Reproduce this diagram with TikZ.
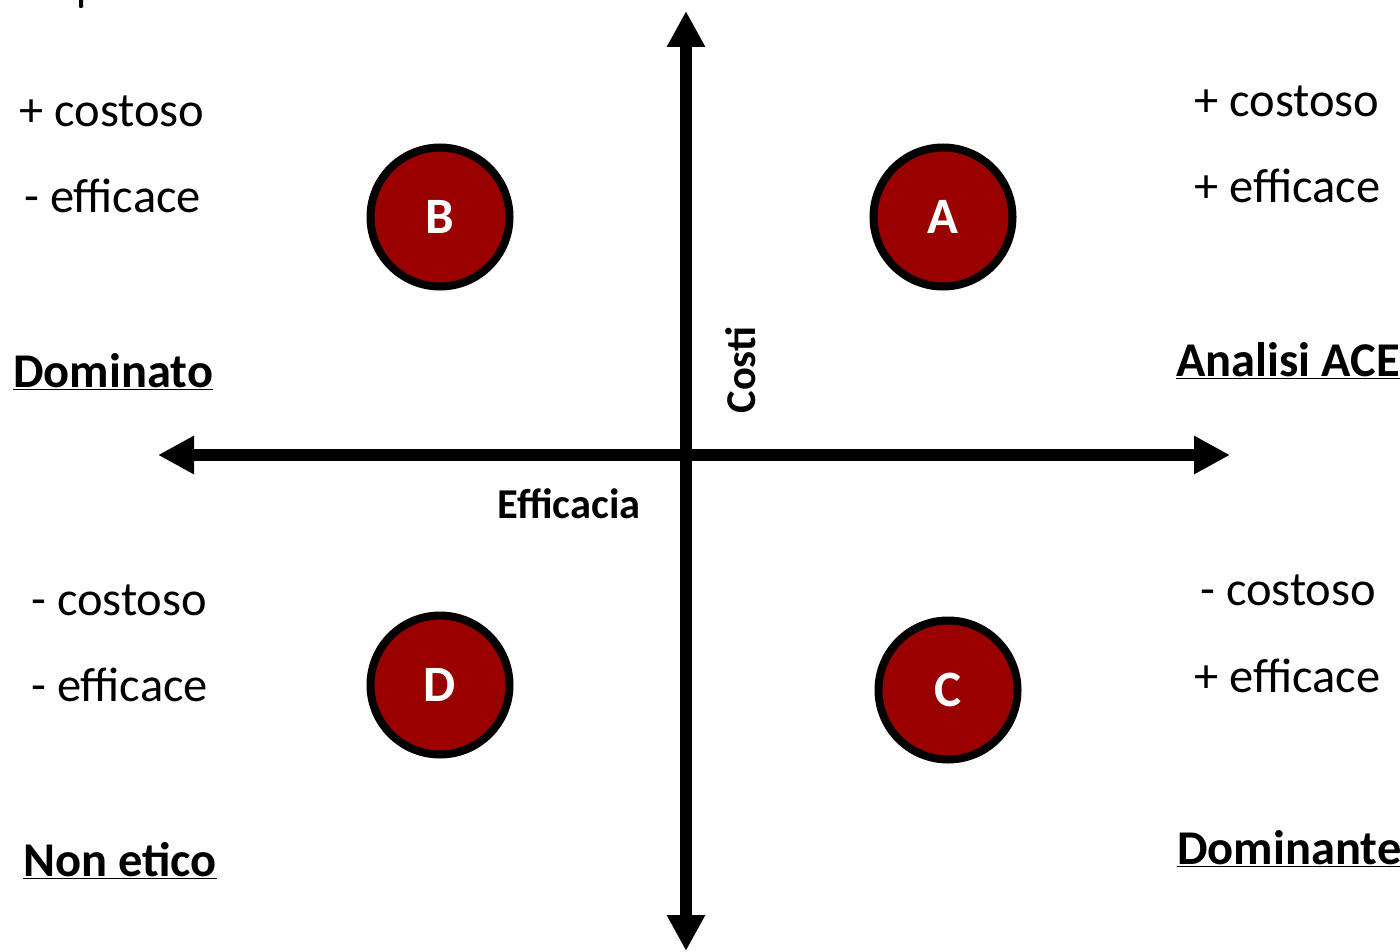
\documentclass[tikz,border=0pt]{standalone}
\usepackage{fontspec}
\setmainfont{Carlito}
\usetikzlibrary{arrows.meta}
\definecolor{dotred}{RGB}{153,0,0}
\tikzset{
  axisline/.style={line width=12pt, line cap=butt,
    {Triangle[length=36pt,width=36pt]}-{Triangle[length=36pt,width=36pt]}},
  dot/.style={circle, draw=black, line width=8pt, fill=dotred, minimum size=139pt,
    inner sep=0pt, text=white, font=\fontsize{51}{60}\selectfont\bfseries},
  lbl/.style={anchor=base west, inner sep=0pt, font=\fontsize{48.5}{58}\selectfont},
  blbl/.style={anchor=base west, inner sep=0pt, font=\fontsize{48.5}{58}\selectfont\bfseries},
  axlbl/.style={inner sep=0pt, font=\fontsize{42.5}{50}\selectfont\bfseries}
}
\begin{document}
\begin{tikzpicture}[x=1pt,y=-1pt]
\useasboundingbox (0,0) rectangle (1400,952);
% small cut-off mark at the top left
\fill[black, rounded corners=1pt] (79,-2) rectangle (83,8);
% axes
\coordinate (vtop) at (686,11);
\coordinate (vbot) at (686,951);
\coordinate (hleft) at (158,455);
\coordinate (hright) at (1230,455);
\draw[axisline] (vbot) -- (vtop);
\draw[axisline] (hleft) -- (hright);
\node[axlbl, rotate=90] (costi) at (741,370) {Costi};
\node[axlbl] (eff) at (569,504) {Efficacia};
% circles
\node[dot] (B) at (440,217) {B};
\node[dot] (A) at (943,217) {A};
\node[dot] (D) at (440,685) {D};
\node[dot] (C) at (948,690) {C};
% quadrant texts
\node[lbl] (bl1) at (19,127) {+ costoso};
\node[lbl] (bl2) at (24,213) {- efficace};
\node[lbl] (al1) at (1194,117) {+ costoso};
\node[lbl] (al2) at (1194,203) {+ efficace};
\node[lbl] (dl1) at (31,615) {- costoso};
\node[lbl] (dl2) at (31,701) {- efficace};
\node[lbl] (cl1) at (1200,605) {- costoso};
\node[lbl] (cl2) at (1194,692) {+ efficace};
\node[blbl] (dom) at (13,387) {\underline{Dominato}};
\node[blbl] (ace) at (1176,376) {\underline{Analisi ACE}};
\node[blbl] (non) at (23,876) {\underline{Non etico}};
\node[blbl] (domte) at (1177,864) {\underline{Dominante}};
\end{tikzpicture}
\end{document}
